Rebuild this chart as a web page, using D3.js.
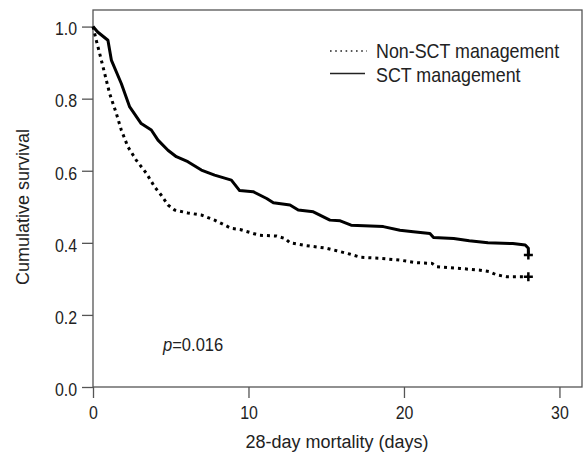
<!DOCTYPE html>
<meta charset="utf-8">
<style>
body { margin: 0; background: #fff; }
text { font-family: "Liberation Sans", Arial, sans-serif; fill: #222; }
.axis path { display: none; }
.axis line { stroke: #555; stroke-width: 1.3; }
.axis text { font-size: 18.5px; }
</style>
<svg width="584" height="454"></svg>
<script src="https://d3js.org/d3.v7.min.js"></script>
<script>

// Kaplan-Meier curves: [days, cumulative survival]
var sctTimes = [0, 0.3, 0.96, 1.18, 1.82, 2.36, 3.1, 3.75, 4.18, 4.82, 5.36, 6.1, 6.97, 7.82, 8.9, 9.43,
  10.3, 11.17, 11.6, 12.67, 13.2, 14.17, 15.24, 15.9, 16.6, 18.67, 19.74, 20.6, 21.67, 21.9,
  23.2, 24.2, 25.4, 27.0, 27.8, 28.0, 28.0];
var sctSurv = [1.0, 0.985, 0.962, 0.907, 0.842, 0.777, 0.731, 0.713, 0.685, 0.657, 0.639, 0.625, 0.602, 0.588, 0.574, 0.545,
  0.542, 0.523, 0.511, 0.505, 0.491, 0.486, 0.463, 0.461, 0.449, 0.445, 0.435, 0.431, 0.426, 0.415,
  0.412, 0.406, 0.400, 0.398, 0.394, 0.385, 0.366];

var nonTimes = [0, 0.21, 0.43, 0.75, 1.07, 1.5, 1.82, 2.25, 2.79, 3.43, 3.97, 4.39, 4.82, 5.25, 6.1, 6.97,
  7.82, 8.9, 9.45, 10.7, 11.8, 12.35, 12.67, 13.74, 15.03, 15.67, 16.5, 17.2, 18.46, 19.74,
  20.8, 21.8, 22.1, 23.6, 24.9, 25.5, 25.96, 26.6, 28.0];
var nonSurv = [1.0, 0.962, 0.925, 0.87, 0.814, 0.759, 0.713, 0.666, 0.629, 0.593, 0.555, 0.532, 0.505, 0.491, 0.483, 0.477,
  0.463, 0.44, 0.437, 0.421, 0.419, 0.412, 0.400, 0.392, 0.385, 0.378, 0.369, 0.36, 0.357, 0.352,
  0.345, 0.343, 0.334, 0.329, 0.324, 0.320, 0.311, 0.306, 0.306];

// censored at the end of follow-up
var censorTimes = [28, 28];
var censorSurv = [0.366, 0.306];

var xTicks = [0, 10, 20, 30];
var yTicks = [0.0, 0.2, 0.4, 0.6, 0.8, 1.0];
var legendLabels = ["Non-SCT management", "SCT management"];

var svg = d3.select("svg");

var plotLeft = 93, plotRight = 582, plotTop = 10, plotBottom = 387;

var x = d3.scaleLinear().domain([0, 31.45]).range([plotLeft, plotRight]);
var y = d3.scaleLinear().domain([0, 1.046]).range([plotBottom, plotTop]);

// squeeze a text horizontally, the original uses a condensed face
function condense(sel, k) {
  sel.each(function() {
    var w = this.getComputedTextLength();
    d3.select(this).attr("textLength", w * k).attr("lengthAdjust", "spacingAndGlyphs");
  });
}

// frame
svg.append("rect")
  .attr("x", plotLeft).attr("y", plotTop)
  .attr("width", plotRight - plotLeft).attr("height", plotBottom - plotTop)
  .attr("fill", "none")
  .attr("stroke", "#555")
  .attr("stroke-width", 1.3);

var xAxis = svg.append("g")
  .attr("class", "axis")
  .attr("transform", "translate(0," + plotBottom + ")")
  .call(d3.axisBottom(x).tickValues(xTicks).tickSize(11).tickPadding(8).tickFormat(d3.format("d")));
condense(xAxis.selectAll("text"), 0.86);

var yAxis = svg.append("g")
  .attr("class", "axis")
  .attr("transform", "translate(" + plotLeft + ",0)")
  .call(d3.axisLeft(y).tickValues(yTicks).tickSize(11).tickPadding(5).tickFormat(d3.format(".1f")));
yAxis.selectAll("text").attr("dy", "0.45em");
condense(yAxis.selectAll("text"), 0.86);

var line = d3.line()
  .x(function(d) { return x(d[0]); })
  .y(function(d) { return y(d[1]); });

var sct = d3.zip(sctTimes, sctSurv);
var non = d3.zip(nonTimes, nonSurv);

svg.append("path")
  .datum(non)
  .attr("d", line)
  .attr("fill", "none")
  .attr("stroke", "#000")
  .attr("stroke-width", 3)
  .attr("stroke-dasharray", "3,4");

svg.append("path")
  .datum(sct)
  .attr("d", line)
  .attr("fill", "none")
  .attr("stroke", "#000")
  .attr("stroke-width", 3)
  .attr("stroke-linejoin", "round");

// censor marks
svg.selectAll(".censor")
  .data(d3.zip(censorTimes, censorSurv))
  .enter()
  .append("path")
  .attr("class", "censor")
  .attr("d", function(d) {
    var cx = x(d[0]), cy = y(d[1]);
    return "M" + (cx - 4.5) + "," + cy + "H" + (cx + 4.5) + "M" + cx + "," + (cy - 4.5) + "V" + (cy + 4.5);
  })
  .attr("stroke", "#000")
  .attr("stroke-width", 2.5);

// legend
var legend = svg.append("g").attr("transform", "translate(330,0)");
legend.append("line")
  .attr("x1", 0).attr("x2", 37).attr("y1", 51).attr("y2", 51)
  .attr("stroke", "#222").attr("stroke-width", 1.6)
  .attr("stroke-dasharray", "1.6,3.6");
legend.append("line")
  .attr("x1", 0).attr("x2", 35).attr("y1", 73.5).attr("y2", 73.5)
  .attr("stroke", "#222").attr("stroke-width", 1.6);
var legendText = legend.selectAll(".lab")
  .data(legendLabels)
  .enter()
  .append("text")
  .attr("class", "lab")
  .attr("x", 46)
  .attr("y", function(d, i) { return 58 + i * 23.5; })
  .style("font-size", "21px")
  .text(function(d) { return d; });
condense(legendText, 0.85);

// p value
var p = svg.append("text")
  .attr("x", 163).attr("y", 351)
  .style("font-size", "19px");
p.append("tspan").style("font-style", "italic").text("p");
p.append("tspan").text("=0.016");
condense(p, 0.87);

// axis titles
svg.append("text")
  .attr("x", 337).attr("y", 448)
  .attr("text-anchor", "middle")
  .style("font-size", "18px")
  .text("28-day mortality (days)");

svg.append("text")
  .attr("transform", "translate(29,207) rotate(-90)")
  .attr("text-anchor", "middle")
  .style("font-size", "18px")
  .text("Cumulative survival");

</script>
